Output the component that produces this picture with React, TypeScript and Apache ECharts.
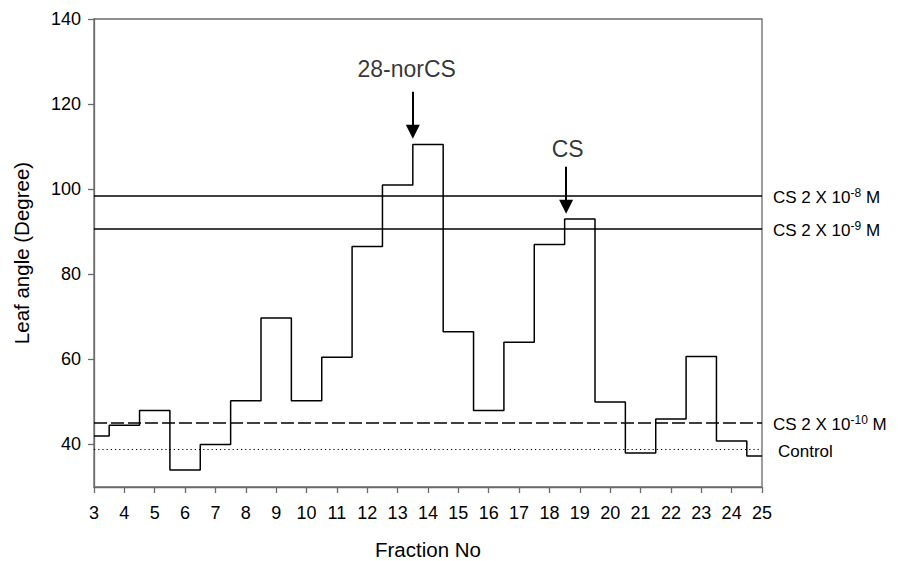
import { useEffect, useRef } from "react";
import * as echarts from "echarts";

const fractions = [3, 4, 5, 6, 7, 8, 9, 10, 11, 12, 13, 14, 15, 16, 17, 18, 19, 20, 21, 22, 23, 24, 25];
const leafAngle = [42, 44.5, 48, 34, 40, 50.3, 69.7, 50.3, 60.5, 86.5, 101, 110.5, 66.5, 48, 64, 87, 93, 50, 38, 46, 60.7, 40.8, 37.3];
const yTickValues = [40, 60, 80, 100, 120, 140];

const refValues = [98.5, 90.7, 45, 38.8];
const refTexts = ["CS 2 X 10", "CS 2 X 10", "CS 2 X 10", "Control"];
const refExponents = ["-8", "-9", "-10", ""];

const annotationTexts = ["28-norCS", "CS"];
const annotationTextX = [13.3, 18.6];
const annotationTextY = [128.2, 109.5];
const arrowX = [13.5, 18.55];
const arrowFrom = [122.9, 105.3];
const arrowTo = [113.5, 95.9];

const FONT = "'Liberation Sans', Arial, sans-serif";

export default function App() {
  const ref = useRef<HTMLDivElement>(null);
  useEffect(() => {
    if (!ref.current) return;
    const chart = echarts.init(ref.current, null, { renderer: "svg" });
    const refStyles = [
      { type: "solid", width: 1.5 },
      { type: "solid", width: 1.5 },
      { type: [13, 4], width: 1.5 },
      { type: [1.2, 3], width: 1.2 },
    ];
    const refDistances = [11, 11, 11, 16];
    const refMarks: any[] = refValues.map((v, i) => ({
      yAxis: v,
      lineStyle: { color: "#000", ...refStyles[i] },
      label: {
        show: true,
        position: "end",
        distance: refDistances[i],
        formatter: refExponents[i]
          ? `{b|${refTexts[i]}}{s|${refExponents[i]}}{b| M}`
          : `{b|${refTexts[i]}}`,
        rich: {
          b: { fontSize: 17, fontFamily: FONT, color: "#000", lineHeight: 20, verticalAlign: "bottom" },
          s: { fontSize: 12, fontFamily: FONT, color: "#000", lineHeight: 20, verticalAlign: "bottom", padding: [0, 0, 7, 0] },
        },
      },
    }));
    const arrowMarks: any[] = arrowX.map((x, i) => [
      { coord: [x, arrowFrom[i]], symbol: "none" },
      { coord: [x, arrowTo[i]], symbol: "triangle", symbolSize: [14, 14] },
    ]);

    chart.setOption({
      animation: false,
      backgroundColor: "#fff",
      grid: {
        left: 94,
        top: 19,
        right: 136,
        bottom: 74,
        show: true,
        containLabel: false,
        outerBoundsMode: "none",
        borderColor: "#6b6b6b",
        borderWidth: 1.3,
      },
      xAxis: {
        type: "value",
        min: 3,
        max: 25,
        interval: 1,
        name: "Fraction No",
        nameLocation: "middle",
        nameGap: 52,
        nameTextStyle: { fontSize: 20.5, lineHeight: 21, fontFamily: FONT, color: "#000" },
        axisLine: { show: true, lineStyle: { color: "#6b6b6b", width: 1.3 } },
        axisTick: { show: true, length: 6, lineStyle: { color: "#6b6b6b", width: 1.3 } },
        axisLabel: { fontSize: 18, fontFamily: FONT, color: "#000", margin: 17 },
        splitLine: { show: false },
      },
      yAxis: {
        type: "value",
        min: 30,
        max: 140,
        name: "Leaf angle (Degree)",
        nameLocation: "middle",
        nameGap: 62,
        nameTextStyle: { fontSize: 20.5, fontFamily: FONT, color: "#000" },
        axisLine: { show: true, lineStyle: { color: "#6b6b6b", width: 1.3 } },
        axisTick: { show: true, length: 6, customValues: yTickValues, lineStyle: { color: "#6b6b6b", width: 1.3 } },
        axisLabel: { fontSize: 18, fontFamily: FONT, color: "#000", margin: 13, customValues: yTickValues },
        splitLine: { show: false },
      },
      series: [
        {
          type: "line",
          step: "middle",
          data: fractions.map((f, i) => [f, leafAngle[i]]),
          symbol: "none",
          lineStyle: { color: "#000", width: 1.5 },
          z: 3,
          markLine: {
            silent: true,
            symbol: "none",
            animation: false,
            data: refMarks,
          },
        },
        {
          type: "line",
          data: [],
          markLine: {
            silent: true,
            symbol: "none",
            animation: false,
            lineStyle: { color: "#000", width: 2, type: "solid" },
            itemStyle: { color: "#000" },
            label: { show: false },
            data: arrowMarks,
          },
        },
        {
          type: "scatter",
          symbolSize: 0,
          itemStyle: { color: "#000" },
          data: annotationTexts.map((t, i) => ({ name: t, value: [annotationTextX[i], annotationTextY[i]] })),
          label: {
            show: true,
            position: "inside",
            formatter: (p: any) => p.name,
            fontSize: 23,
            fontFamily: FONT,
            color: "#000",
            textBorderWidth: 0,
            textBorderColor: "transparent",
          },
          silent: true,
        },
      ],
    });
    return () => chart.dispose();
  }, []);
  return <div ref={ref} style={{ position: "fixed", left: 0, top: 0, width: 898, height: 561 }} />;
}
